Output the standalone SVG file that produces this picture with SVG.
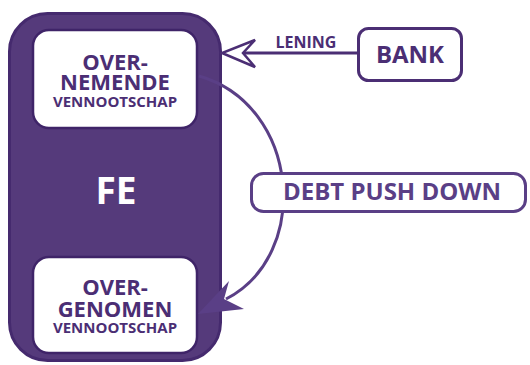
<svg xmlns="http://www.w3.org/2000/svg" width="530" height="365" viewBox="0 0 530 365">
<style>
.t{font-family:"Open Sans","Liberation Sans",sans-serif;font-weight:700;fill:#4b2e74;text-anchor:middle}
.w{fill:#ffffff;stroke:#3f2468;stroke-width:2.5}
.b{fill:#ffffff;stroke:#4b2e74;stroke-width:3}
.c{fill:none;stroke:#5a3f86;stroke-width:3}
</style>
<rect width="530" height="365" fill="#ffffff"/>
<g id="fe">
<rect x="9.5" y="13.5" width="211" height="347" rx="38" fill="#553a7b" stroke="#452a6e" stroke-width="3"/>
<text class="t" x="116" y="204" font-size="37" style="fill:#ffffff">FE</text>
</g>
<g id="overnemende">
<rect class="w" x="33" y="30" width="164" height="98" rx="16"/>
<text class="t" x="115" y="70" font-size="22">OVER-</text>
<text class="t" x="115" y="90" font-size="22">NEMENDE</text>
<text class="t" x="115" y="107" font-size="15">VENNOOTSCHAP</text>
</g>
<g id="overgenomen">
<rect class="w" x="33" y="257" width="164" height="96" rx="16"/>
<text class="t" x="115" y="295" font-size="22">OVER-</text>
<text class="t" x="115" y="317" font-size="22">GENOMEN</text>
<text class="t" x="115" y="333" font-size="15">VENNOOTSCHAP</text>
</g>
<g id="bank">
<rect class="b" x="358.5" y="28.5" width="103" height="52" rx="10"/>
<text class="t" x="410" y="63" font-size="24">BANK</text>
</g>
<g id="connectors">
<line class="c" x1="357" y1="53" x2="226" y2="53" style="stroke:#4b2e74"/>
<path d="M255,40 L222,53 L255,67 L243,53 Z" fill="#ffffff" stroke="#4b2e74" stroke-width="2.5" stroke-linejoin="miter"/>
<text class="t" x="306" y="48" font-size="16">LENING</text>
<path class="c" d="M199,76 C300,105 312,255 226,299"/>
<path d="M198,314 L229,281 L224,299 L244,309 Z" fill="#5a3f86"/>
</g>
<g id="debt">
<rect class="b" x="251.5" y="173.5" width="274" height="38" rx="12" style="stroke:#5a3f86"/>
<text class="t" x="392" y="200" font-size="24" style="fill:#5a3f86">DEBT PUSH DOWN</text>
</g>
</svg>
